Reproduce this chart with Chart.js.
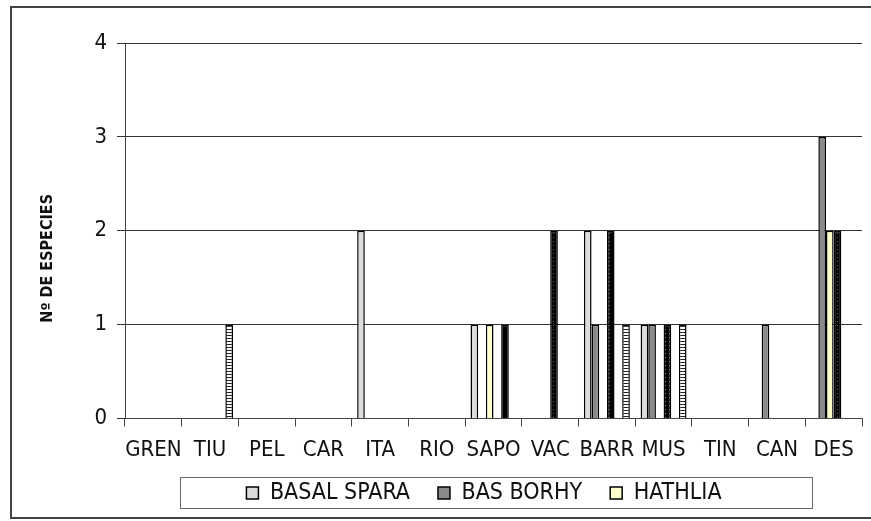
<!DOCTYPE html>
<html>
<head>
<meta charset="utf-8">
<script src="https://cdn.jsdelivr.net/npm/chart.js@4"></script>
<style>
  html, body { margin: 0; padding: 0; background: #fff; }
  #wrap { width: 871px; height: 521px; }
</style>
</head>
<body>
<div id="wrap"><canvas id="especiesChart" width="871" height="521"></canvas></div>
<script>
// data
const categories = ['GREN', 'TIU', 'PEL', 'CAR', 'ITA', 'RIO', 'SAPO', 'VAC', 'BARR', 'MUS', 'TIN', 'CAN', 'DES'];
const seriesNames = ['BASAL SPARA', 'BAS BORHY', 'HATHLIA', 'SERIE 4', 'SERIE 5', 'SERIE 6'];
const basalSpara = [0, 0, 0, 0, 2, 0, 1, 0, 2, 1, 0, 0, 0];
const basBorhy   = [0, 0, 0, 0, 0, 0, 0, 0, 1, 1, 0, 1, 3];
const hathlia    = [0, 0, 0, 0, 0, 0, 1, 0, 0, 0, 0, 0, 2];
const serie4     = [0, 0, 0, 0, 0, 0, 0, 2, 2, 1, 0, 0, 2];
const serie5     = [0, 0, 0, 0, 0, 0, 1, 0, 0, 0, 0, 0, 0];
const serie6     = [0, 1, 0, 0, 0, 0, 0, 0, 1, 1, 0, 0, 0];
const yTicks = [0, 1, 2, 3, 4];

const ctx = document.getElementById('especiesChart').getContext('2d');

// fill patterns
function makePattern(w, h, draw) {
  const c = document.createElement('canvas');
  c.width = w; c.height = h;
  draw(c.getContext('2d'));
  return ctx.createPattern(c, 'repeat');
}
const dotted = makePattern(4, 4, g => {
  g.fillStyle = '#000'; g.fillRect(0, 0, 4, 4);
  g.fillStyle = '#777'; g.fillRect(1, 1, 1, 1);
});
const striped = makePattern(4, 3, g => {
  g.fillStyle = '#fff'; g.fillRect(0, 0, 4, 3);
  g.fillStyle = '#222'; g.fillRect(0, 2, 4, 1);
});

const fills = ['#dcdcdc', '#8a8a8a', '#ffffcc', dotted, '#000000', striped];
const values = [basalSpara, basBorhy, hathlia, serie4, serie5, serie6];

const FONT = 'DejaVu Sans Condensed';

// frame around the picture and the legend
const frames = {
  id: 'frames',
  afterLayout(chart) {
    // nudge the legend items like in the original
    chart.legend.left += 34;
    chart.legend.right += 34;
    chart.legend.top -= 5;
    chart.legend.bottom -= 5;
  },
  afterDraw(chart) {
    const c = chart.ctx;
    c.save();
    c.strokeStyle = '#444';
    c.lineWidth = 2;
    c.beginPath();
    c.moveTo(871, 7); c.lineTo(11, 7); c.lineTo(11, 518); c.lineTo(871, 518);
    c.stroke();
    c.strokeStyle = '#666';
    c.lineWidth = 1;
    c.strokeRect(180.5, 477.5, 632, 31);
    c.restore();
  }
};

const legendHeight = {
  id: 'legendHeight',
  beforeInit(chart) {
    const fit = chart.legend.fit;
    chart.legend.fit = function () {
      fit.bind(chart.legend)();
      this.height = 62.5;
    };
  }
};

new Chart(ctx, {
  type: 'bar',
  data: {
    labels: categories,
    datasets: seriesNames.map((name, i) => ({
      label: name,
      data: values[i],
      backgroundColor: fills[i],
      borderColor: '#000',
      borderWidth: 1.5,
      categoryPercentage: 0.81,
      barPercentage: 1.0
    }))
  },
  options: {
    responsive: false,
    animation: false,
    layout: { padding: { top: 43, left: 38, right: 9, bottom: 0 } },
    plugins: {
      legend: {
        position: 'bottom',
        labels: {
          filter: item => item.datasetIndex < 3,
          boxWidth: 12,
          boxHeight: 12,
          padding: 28,
          color: '#111',
          font: { family: FONT, size: 23 }
        }
      },
      tooltip: { enabled: false }
    },
    scales: {
      x: {
        grid: { offset: true, drawOnChartArea: false, tickLength: 8, color: '#444' },
        border: { color: '#444', width: 1 },
        ticks: { color: '#111', padding: 11, maxRotation: 0, autoSkip: false,
                 font: { family: FONT, size: 22 } },
        afterFit(scale) { scale.height = 40; }
      },
      y: {
        min: 0,
        max: 4,
        afterBuildTicks(scale) { scale.ticks = yTicks.map(v => ({ value: v })); },
        grid: { color: '#333', tickLength: 8 },
        border: { color: '#444', width: 1 },
        ticks: { color: '#111', padding: 10, font: { family: FONT, size: 22 } },
        title: {
          display: true,
          // trailing spaces push the title down, as in the original
          text: 'Nº DE ESPECIES' + '\u00a0'.repeat(11),
          color: '#111',
          padding: 0,
          font: { family: FONT, size: 16, weight: 'bold' }
        },
        afterFit(scale) { scale.width = 87; }
      }
    }
  },
  plugins: [frames, legendHeight]
});
</script>
</body>
</html>
